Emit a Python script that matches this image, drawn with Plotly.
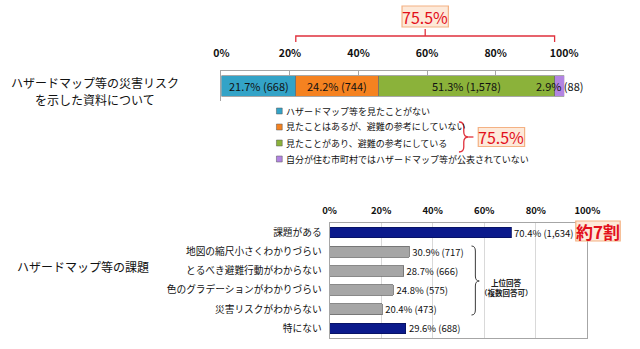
import plotly.graph_objects as go

W, H = 640, 349
FONT = "Noto Sans CJK JP"

# --- upper chart: awareness / use of hazard maps (single stacked bar) ---
top_category = "ハザードマップ等の災害リスクを示した資料について"
top_label_lines = ["ハザードマップ等の災害リスク", "を示した資料について"]
responses = [
    "ハザードマップ等を見たことがない",
    "見たことはあるが、避難の参考にしていない",
    "見たことがあり、避難の参考にしている",
    "自分が住む市町村ではハザードマップ等が公表されていない",
]
resp_pct = [21.7, 24.2, 51.3, 2.9]
resp_n = [668, 744, 1578, 88]
resp_colors = ["#33A3C7", "#F58220", "#8BB23A", "#B284E2"]
axis_ticks = [0, 20, 40, 60, 80, 100]
axis_ticktext = ["0%", "20%", "40%", "60%", "80%", "100%"]

# --- lower chart: problems with hazard maps ---
issues = [
    "課題がある",
    "地図の縮尺小さくわかりづらい",
    "とるべき避難行動がわからない",
    "色のグラデーションがわかりづらい",
    "災害リスクがわからない",
    "特にない",
]
issue_pct = [70.4, 30.9, 28.7, 24.8, 20.4, 29.6]
issue_n = [1634, 717, 666, 575, 473, 688]
issue_colors = ["#0B1A8C", "#A6A6A6", "#A6A6A6", "#A6A6A6", "#A6A6A6", "#0B1A8C"]
issue_line = ["#06105E", "#6B6B6B", "#6B6B6B", "#6B6B6B", "#6B6B6B", "#06105E"]

# pixel layout of the two plot areas
TOP_X0, TOP_X1 = 221, 576
BOT_X0, BOT_X1 = 333, 600


def px(x):
    return x / W


def py(y):
    return 1 - y / H


def fmt(p, n):
    return f"{p}% ({n:,})"


fig = go.Figure()

# stacked segments of the upper bar
for name, p, c in zip(responses, resp_pct, resp_colors):
    fig.add_trace(go.Bar(
        x=[p], y=[top_category], orientation="h", name=name,
        marker=dict(color=c, line=dict(color="#6E6E6E", width=0.6)),
        width=0.67, xaxis="x", yaxis="y", showlegend=False,
        hoverinfo="skip",
    ))

# lower horizontal bars
fig.add_trace(go.Bar(
    x=issue_pct, y=issues, orientation="h",
    marker=dict(color=issue_colors, line=dict(color=issue_line, width=0.8)),
    text=[fmt(p, n) for p, n in zip(issue_pct, issue_n)],
    textposition="outside", cliponaxis=False, constraintext="none",
    textfont=dict(family=FONT, size=9.5, color="#111111"),
    xaxis="x2", yaxis="y2", showlegend=False, hoverinfo="skip",
))

annotations = []
shapes = []


def callout(cx, cy, w, h, text, size, bold=False, xref="paper"):
    """Peach box with red text, centred at (cx, cy)."""
    if xref == "paper":
        x0, x1, xc = px(cx - w / 2), px(cx + w / 2), px(cx)
    else:
        half = (w / 2) * 100 / (TOP_X1 - TOP_X0)
        x0, x1, xc = cx - half, cx + half, cx
    shapes.append(dict(
        type="rect", xref=xref, yref="paper",
        x0=x0, x1=x1, y0=py(cy + h / 2), y1=py(cy - h / 2),
        fillcolor="#FDE9D9", line=dict(color="#F4B183", width=1.2),
        layer="above",
    ))
    font = dict(family=FONT, size=size, color="#E3101B")
    if bold:
        font["weight"] = "bold"
    annotations.append(dict(
        x=xc, y=py(cy), xref=xref, yref="paper",
        xanchor="center", yanchor="middle",
        text=text, showarrow=False, font=font,
    ))


# value labels on the upper bar segments
cum = 0
starts = []
for p, n in zip(resp_pct, resp_n):
    starts.append(cum)
    annotations.append(dict(
        x=cum + p / 2, y=top_category, xref="x", yref="y",
        text=fmt(p, n), showarrow=False,
        font=dict(family=FONT, size=11, color="#111111"),
    ))
    cum += p

# category label for the upper bar (two centred lines)
for line, yy in zip(top_label_lines, [83, 99]):
    annotations.append(dict(
        x=px(90), y=py(yy), xref="paper", yref="paper",
        xanchor="center", yanchor="middle",
        text=line, showarrow=False,
        font=dict(family=FONT, size=12, color="#111111"),
    ))

# bracket over the "seen it" segments with their total
seen_start = starts[1]
seen_end = starts[2] + resp_pct[2]
seen_total = round(resp_pct[1] + resp_pct[2], 1)
mid = (seen_start + seen_end) / 2
red = "#E0303C"
shapes.append(dict(
    type="path", xref="x", yref="paper",
    path=(f"M {seen_start},{py(42)} L {seen_start},{py(36)} "
          f"L {seen_end},{py(36)} L {seen_end},{py(42)} "
          f"M {mid},{py(36)} L {mid},{py(29)}"),
    line=dict(color=red, width=1.3),
))
callout(mid, 16.5, 48, 21, f"{seen_total}%", 16, xref="x")

# legend drawn as small squares with text
legend_rows = [111, 127, 143, 159]
for name, c, yy in zip(responses, resp_colors, legend_rows):
    shapes.append(dict(
        type="rect", xref="paper", yref="paper",
        x0=px(278), x1=px(284), y0=py(yy + 3), y1=py(yy - 3),
        fillcolor=c, line=dict(color="#555555", width=0.5),
    ))
    annotations.append(dict(
        x=px(286), y=py(yy), xref="paper", yref="paper",
        xanchor="left", yanchor="middle", text=name, showarrow=False,
        font=dict(family=FONT, size=9, color="#111111"),
    ))

# curly brace beside the legend and its total
shapes.append(dict(
    type="path", xref="paper", yref="paper",
    path=(f"M {px(467)},{py(122)} Q {px(472)},{py(122)} {px(472)},{py(127)} "
          f"L {px(472)},{py(132)} Q {px(472)},{py(137)} {px(477)},{py(137)} "
          f"Q {px(472)},{py(137)} {px(472)},{py(142)} "
          f"L {px(472)},{py(147)} Q {px(472)},{py(152)} {px(467)},{py(152)}"),
    line=dict(color=red, width=1.3),
))
shapes.append(dict(
    type="line", xref="paper", yref="paper",
    x0=px(477), x1=px(482), y0=py(137), y1=py(137),
    line=dict(color=red, width=1.3),
))
callout(511, 137, 48, 19, f"{seen_total}%", 16)

# lower chart heading
annotations.append(dict(
    x=px(77.5), y=py(266), xref="paper", yref="paper",
    xanchor="center", yanchor="middle", text="ハザードマップ等の課題",
    showarrow=False, font=dict(family=FONT, size=12, color="#111111"),
))

# "about 70%" callout for the first bar
callout(611, 231, 46, 20, "約7割", 17, bold=True)

# brace grouping the top answers
dark = "#3A3A3A"
shapes.append(dict(
    type="path", xref="paper", yref="paper",
    path=(f"M {px(480)},{py(246)} Q {px(484)},{py(246)} {px(484)},{py(251)} "
          f"L {px(484)},{py(276)} Q {px(484)},{py(281)} {px(488)},{py(281)} "
          f"Q {px(484)},{py(281)} {px(484)},{py(286)} "
          f"L {px(484)},{py(310)} Q {px(484)},{py(315)} {px(480)},{py(315)}"),
    line=dict(color=dark, width=1),
))
for line, yy in zip(["上位回答", "（複数回答可）"], [282, 292]):
    annotations.append(dict(
        x=px(516), y=py(yy), xref="paper", yref="paper",
        xanchor="center", yanchor="middle",
        text=line, showarrow=False,
        font=dict(family=FONT, size=7.5, color="#222222", weight="bold"),
    ))

fig.update_layout(
    width=W, height=H, autosize=False,
    margin=dict(l=0, r=0, t=0, b=0),
    paper_bgcolor="white", plot_bgcolor="white",
    barmode="stack", bargap=0.45,
    font=dict(family=FONT, color="#111111"),
    showlegend=False,
    xaxis=dict(
        domain=[px(TOP_X0), px(TOP_X1)], anchor="y", side="top",
        range=[0, 100], tickvals=axis_ticks, ticktext=axis_ticktext,
        ticks="inside", ticklen=5, tickcolor="#A6A6A6",
        showline=True, linecolor="#A6A6A6", linewidth=1,
        showgrid=False, zeroline=False, ticklabelstandoff=9,
        tickfont=dict(family=FONT, size=10.5, color="#111111", weight="bold"),
        fixedrange=True,
    ),
    yaxis=dict(
        domain=[py(101), py(71)], anchor="x",
        range=[-0.5, 0.5], showticklabels=False, ticks="",
        showline=True, linecolor="#A6A6A6", showgrid=False, zeroline=False,
        fixedrange=True,
    ),
    xaxis2=dict(
        domain=[px(BOT_X0), px(BOT_X1)], anchor="y2", side="top",
        range=[0, 100], tickvals=axis_ticks, ticktext=axis_ticktext,
        ticks="", showline=True, mirror=True, linecolor="#A6A6A6",
        showgrid=True, gridcolor="#D9D9D9", zeroline=False,
        ticklabelstandoff=4,
        tickfont=dict(family=FONT, size=9.5, color="#111111", weight="bold"),
        fixedrange=True,
    ),
    yaxis2=dict(
        domain=[py(338), py(223)], anchor="x2",
        categoryorder="array", categoryarray=issues, autorange="reversed",
        ticks="", showline=True, mirror=True, linecolor="#A6A6A6",
        showgrid=False, zeroline=False, ticklabelstandoff=5,
        tickfont=dict(family=FONT, size=9.7, color="#111111"),
        fixedrange=True,
    ),
    annotations=annotations,
    shapes=shapes,
)

fig.write_html("out.html", config={"displayModeBar": False})
